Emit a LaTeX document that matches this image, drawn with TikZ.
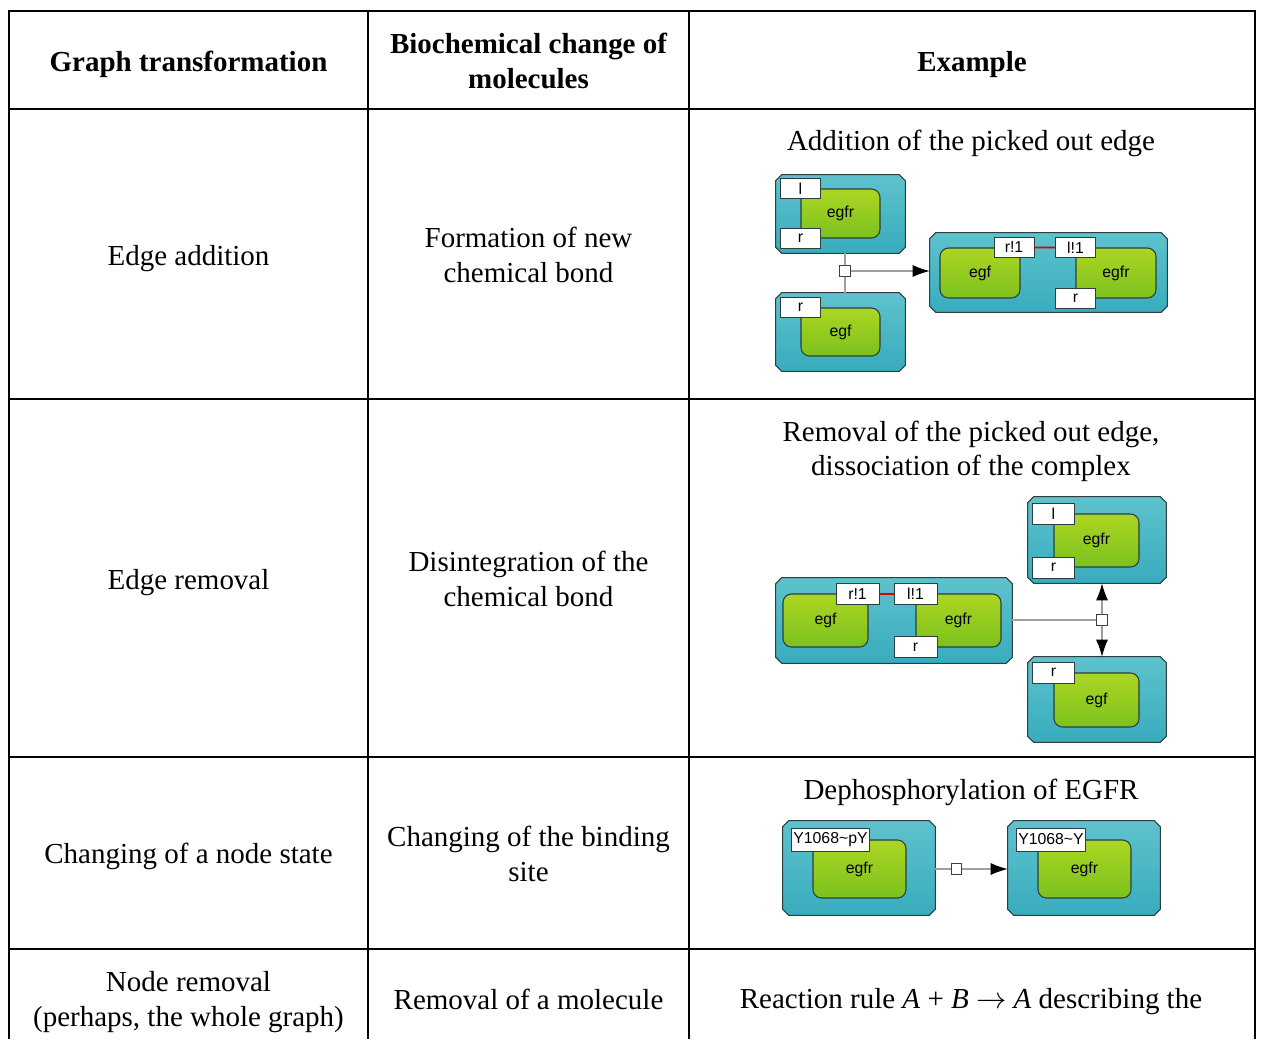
\documentclass[tikz,border=0pt]{standalone}
\usepackage{fontspec}
\setmainfont{Liberation Serif}
\setsansfont{Liberation Sans}
\usetikzlibrary{arrows.meta,backgrounds}

\definecolor{tealtop}{RGB}{94,194,205}
\definecolor{tealbot}{RGB}{56,172,189}
\definecolor{greentop}{RGB}{172,214,34}
\definecolor{greenbot}{RGB}{124,193,30}
\definecolor{edgegray}{RGB}{45,62,62}

\begin{document}
\begin{tikzpicture}[x=0.02cm, y=-0.02cm,
        every node/.style={align=center, font=\fontsize{16.5}{19.5}\selectfont},
        head/.style={font=\fontsize{16.5}{19.5}\selectfont\bfseries},
        gridline/.style={line width=0.04cm, black},
        molecule/.style={rectangle, inner sep=0pt},
        molbody/.style={draw=edgegray, line width=0.6pt, top color=tealtop, bottom color=tealbot},
        agent/.style={rectangle, rounded corners=0.17cm, draw=edgegray, line width=0.6pt, top color=greentop, bottom color=greenbot, inner sep=0pt, font=\sffamily\fontsize{9}{10}\selectfont},
        site/.style={rectangle, draw=edgegray, line width=0.5pt, fill=white, inner xsep=1pt, inner ysep=0pt, minimum height=0.4cm, font=\sffamily\fontsize{9}{10}\selectfont},
        rxn/.style={rectangle, draw=black!75, fill=white, line width=0.6pt, minimum size=0.21cm, inner sep=0pt},
        link/.style={draw=gray!75, line width=0.6pt},
        flow/.style={link, -{Latex[length=0.34cm, width=0.24cm, color=black]}},
        bond/.style={draw=red!85!black, line width=1pt}
    ]
        \useasboundingbox (0,0) rectangle (1261,1039);

        % table
        \draw[gridline] (9,1039) -- (9,11) -- (1255,11) -- (1255,1039);
        \foreach \y in {109,399,757,949}
            \draw[gridline] (9,\y) -- (1255,\y);
        \foreach \x in {368,689}
            \draw[gridline] (\x,11) -- (\x,1039);

        \node[head] (h1) at (188.5,64) {Graph transformation};
        \node[head] (h2) at (528.5,61) {Biochemical change of\\molecules};
        \node[head] (h3) at (972,65) {Example};

        \node (t1) at (188.5,259) {Edge addition};
        \node (c1) at (528.5,255) {Formation of new\\chemical bond};
        \node (e1) at (971,143) {Addition of the picked out edge};

        \node (t2) at (188.5,583) {Edge removal};
        \node (c2) at (528.5,579) {Disintegration of the\\chemical bond};
        \node (e2) at (971,451) {Removal of the picked out edge,\\dissociation of the complex};

        \node (t3) at (188.5,856) {Changing of a node state};
        \node (c3) at (528.5,854) {Changing of the binding\\site};
        \node (e3) at (971,792) {Dephosphorylation of EGFR};

        \node (t4) at (188.5,1002) {Node removal\\(perhaps, the whole graph)};
        \node (c4) at (528.5,999) {Removal of a molecule};
        \node (e4) at (971,1002) {Reaction rule \textit{A} + \textit{B} $\rightarrow$ \textit{A} describing the};

        % addition
        \node[molecule, minimum width=2.58cm, minimum height=1.56cm] (m1) at (840.5,214) {};
        \node[agent, minimum width=1.58cm, minimum height=0.98cm] (m1a) at (840.5,213.5) {egfr};
        \node[site, minimum width=0.8cm] (m1l) at (m1a.north west) {l};
        \node[site, minimum width=0.8cm] (m1r) at (m1a.south west) {r};

        \node[molecule, minimum width=2.58cm, minimum height=1.56cm] (m2) at (840.5,332) {};
        \node[agent, minimum width=1.58cm, minimum height=0.96cm] (m2a) at (840.5,332) {egf};
        \node[site, minimum width=0.8cm] (m2r) at (m2a.north west) {r};

        \node[molecule, minimum width=4.74cm, minimum height=1.58cm] (m3) at (1048.5,272.5) {};
        \node[agent, minimum width=1.6cm, minimum height=1cm] (m3a) at (980,273) {egf};
        \node[agent, minimum width=1.6cm, minimum height=1cm] (m3b) at (1116,273) {egfr};
        \node[site, minimum width=0.8cm] (m3r) at (1014,247.5) {r!1};
        \node[site, minimum width=0.8cm] (m3l) at (m3b.north west) {l!1};
        \node[site, minimum width=0.8cm] (m3s) at (m3b.south west) {r};
        \draw[bond] (m3r.east) -- (m3l.west);

        \node[rxn] (r1) at (845,271) {};
        \draw[link] (r1 |- m1.south) -- (r1.north);
        \draw[link] (r1.south) -- (r1 |- m2.north);
        \draw[flow] (r1.east) -- (m3.west |- r1.east);

        % removal
        \node[molecule, minimum width=4.72cm, minimum height=1.7cm] (m4) at (894,620.5) {};
        \node[agent, minimum width=1.7cm, minimum height=1.06cm] (m4a) at (825.5,620.5) {egf};
        \node[agent, minimum width=1.7cm, minimum height=1.06cm] (m4b) at (958.5,620.5) {egfr};
        \node[site, minimum width=0.86cm, minimum height=0.42cm] (m4r) at (857.5,594) {r!1};
        \node[site, minimum width=0.86cm, minimum height=0.42cm] (m4l) at (915.5,594) {l!1};
        \node[site, minimum width=0.86cm, minimum height=0.42cm] (m4s) at (915.5,647) {r};
        \draw[bond] (m4r.east) -- (m4l.west);

        \node[molecule, minimum width=2.76cm, minimum height=1.72cm] (m5) at (1097,540) {};
        \node[agent, minimum width=1.7cm, minimum height=1.06cm] (m5a) at (1096.5,540.5) {egfr};
        \node[site, minimum width=0.84cm, minimum height=0.42cm] (m5l) at (m5a.north west) {l};
        \node[site, minimum width=0.84cm, minimum height=0.42cm] (m5r) at (m5a.south west) {r};

        \node[molecule, minimum width=2.76cm, minimum height=1.7cm] (m6) at (1097,699.5) {};
        \node[agent, minimum width=1.7cm, minimum height=1.08cm] (m6a) at (1096.5,700) {egf};
        \node[site, minimum width=0.84cm, minimum height=0.42cm] (m6r) at (m6a.north west) {r};

        \node[rxn] (r2) at (1102,620) {};
        \draw[link] (m4.east |- r2) -- (r2.west);
        \draw[flow] (r2.north) -- (r2 |- m5.south);
        \draw[flow] (r2.south) -- (r2 |- m6.north);

        % state change
        \node[molecule, minimum width=3.04cm, minimum height=1.88cm] (m7) at (859,868) {};
        \node[agent, minimum width=1.86cm, minimum height=1.16cm] (m7a) at (859.5,869) {egfr};
        \node[site, minimum height=0.46cm] (m7s) at (830.5,839.5) {Y1068\textasciitilde pY};

        \node[molecule, minimum width=3.04cm, minimum height=1.88cm] (m8) at (1084,868) {};
        \node[agent, minimum width=1.86cm, minimum height=1.16cm] (m8a) at (1084.5,869) {egfr};
        \node[site, minimum height=0.46cm] (m8s) at (1051,839.5) {Y1068\textasciitilde Y};

        \node[rxn] (r3) at (956.5,869) {};
        \draw[link] (m7.east |- r3) -- (r3.west);
        \draw[flow] (r3.east) -- (m8.west |- r3);

        % chamfered molecule bodies
        \begin{scope}[on background layer]
            \foreach \m in {m1,m2,m3,m4,m5,m6,m7,m8}
                \draw[molbody] ([xshift=0.12cm]\m.north west) -- ([xshift=-0.12cm]\m.north east)
                    -- ([yshift=-0.12cm]\m.north east) -- ([yshift=0.12cm]\m.south east)
                    -- ([xshift=-0.12cm]\m.south east) -- ([xshift=0.12cm]\m.south west)
                    -- ([yshift=0.12cm]\m.south west) -- ([yshift=-0.12cm]\m.north west) -- cycle;
        \end{scope}
    \end{tikzpicture}
\end{document}
